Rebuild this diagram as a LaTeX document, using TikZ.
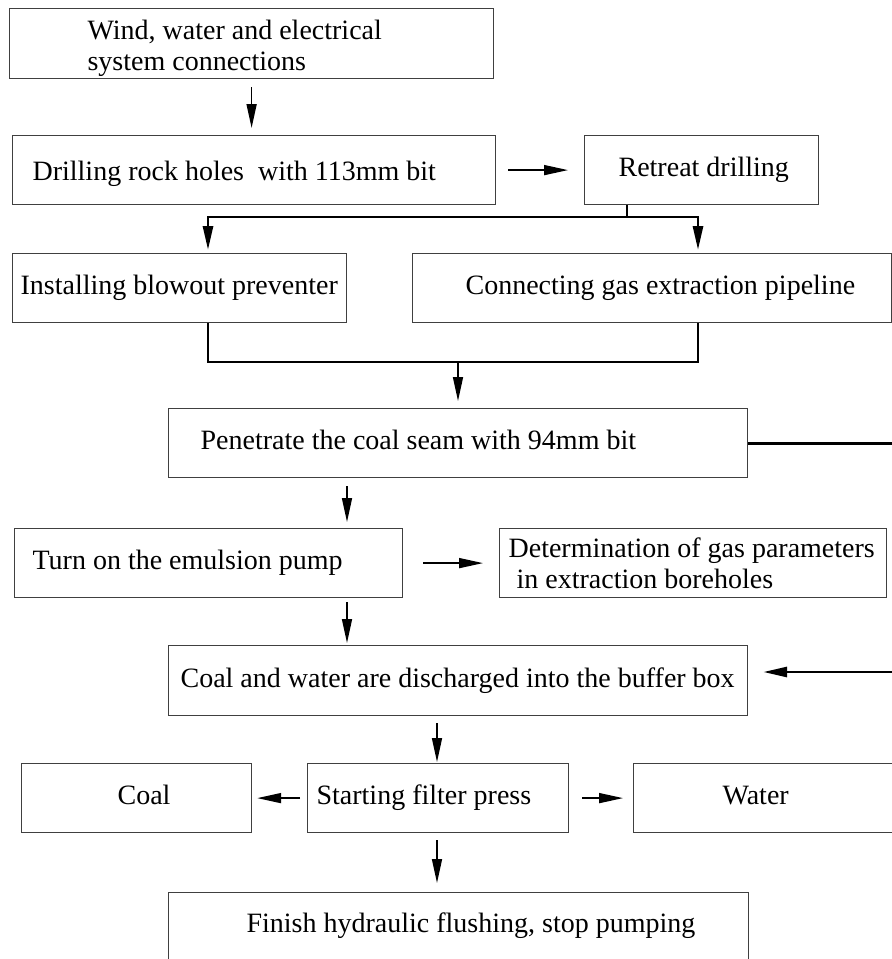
\documentclass[tikz,border=0pt]{standalone}
\usepackage{fontspec}
\setmainfont{Liberation Serif}
\usetikzlibrary{arrows.meta}
\definecolor{flowcolor0000}{RGB}{0,0,0}
\definecolor{flowcolor0001}{RGB}{64,64,64}

\begin{document}
\begin{tikzpicture}[yscale=-1
,fbox/.style={draw=flowcolor0001,line width=1.2pt,anchor=north west,align=left,inner xsep=0pt,inner ysep=0pt,minimum height=69pt,text height=19pt,text depth=6pt,font=\fontsize{28pt}{31pt}\selectfont,execute at begin node={\leftskip=#1\relax\spaceskip=0pt\xspaceskip=0pt},execute at end node={\endgraf}}
,farrow/.style={color=flowcolor0000,line width=1.6pt,-{Triangle[length=24pt,width=10pt]}}
,fbus/.style={color=flowcolor0000,line width=2.8pt}
,fbusarrow/.style={fbus,-{Triangle[length=24pt,width=10pt]}}
]
\path[use as bounding box,clip] (0pt,0pt) rectangle (892pt,959pt);
\node[fbox=78pt,text width=484pt,minimum height=70pt,text depth=28pt] (wind) at (9pt,8pt) {Wind, water and electrical\\system connections};
\node[fbox=20pt,text width=483pt,text height=27pt] (drill) at (12pt,135pt) {Drilling rock holes~ with 113mm bit};
\node[fbox=34pt,text width=234pt] (retreat) at (584pt,135pt) {Retreat drilling};
\node[fbox=8pt,text width=334pt] (install) at (12pt,253pt) {Installing blowout preventer};
\node[fbox=53pt,text width=479pt] (connect) at (412pt,253pt) {Connecting gas extraction pipeline};
\node[fbox=32pt,text width=579pt] (pen) at (168pt,408pt) {Penetrate the coal seam with 94mm bit};
\node[fbox=18pt,text width=388pt] (turnon) at (14pt,528pt) {Turn on the emulsion pump};
\node[fbox=9pt,text width=387pt,text depth=31pt] (determ) at (499pt,528pt) {Determination of gas parameters\\\hspace*{8pt}in extraction boreholes};
\node[fbox=12pt,text width=579pt,minimum height=70pt] (buffer) at (168pt,645pt) {Coal and water are discharged into the buffer box};
\node[fbox=96pt,text width=230pt] (coal) at (21pt,763pt) {Coal};
\node[fbox=9pt,text width=261pt] (start) at (307pt,763pt) {Starting filter press};
\node[fbox=89pt,text width=300pt] (water) at (633pt,763pt) {Water};
\node[fbox=78pt,text width=580pt,minimum height=100pt,text depth=39pt] (finish) at (168pt,892pt) {Finish hydraulic flushing, stop pumping};
\coordinate (split) at (627pt,217pt);
\coordinate (colL) at (208pt,217pt);
\coordinate (colR) at (698pt,217pt);
\coordinate (join) at (458pt,362pt);
\coordinate (colA) at (347pt,0pt);
\coordinate (colB) at (437pt,0pt);
\coordinate (loop) at (960pt,672pt);
\draw[farrow,shorten <=8pt,shorten >=7pt] (wind.south) -- (wind.south |- drill.north);
\draw[farrow,shorten <=12pt,shorten >=16pt] (drill.east) -- (drill.east -| retreat.west);
\draw[fbus] (retreat.south -| split) -- (split);
\draw[fbusarrow,shorten >=3pt] (split) -| (install.north -| colL);
\draw[fbusarrow,shorten >=3pt] (split) -| (connect.north -| colR);
\draw[fbus] (install.south -| colL) |- (join);
\draw[fbus] (connect.south -| colR) |- (join);
\draw[farrow,shorten >=7pt] (join) -- (join |- pen.north);
\draw[farrow,shorten <=8pt,shorten >=6pt] (pen.south -| colA) -- (turnon.north -| colA);
\draw[farrow,shorten <=20pt,shorten >=16pt] (turnon.east) -- (turnon.east -| determ.west);
\draw[farrow,shorten <=4pt,shorten >=2pt] (turnon.south -| colA) -- (buffer.north -| colA);
\draw[fbusarrow,shorten >=15pt] (pen.east) -| (loop) -- (loop -| buffer.east);
\draw[farrow,shorten <=7pt,shorten >=1pt] (buffer.south -| colB) -- (start.north -| colB);
\draw[farrow,shorten <=7pt,shorten >=5pt] (start.west) -- (coal.east);
\draw[farrow,shorten <=13pt,shorten >=10pt] (start.east) -- (water.west);
\draw[farrow,shorten <=7pt,shorten >=9pt] (start.south -| colB) -- (finish.north -| colB);
\end{tikzpicture}
\end{document}
